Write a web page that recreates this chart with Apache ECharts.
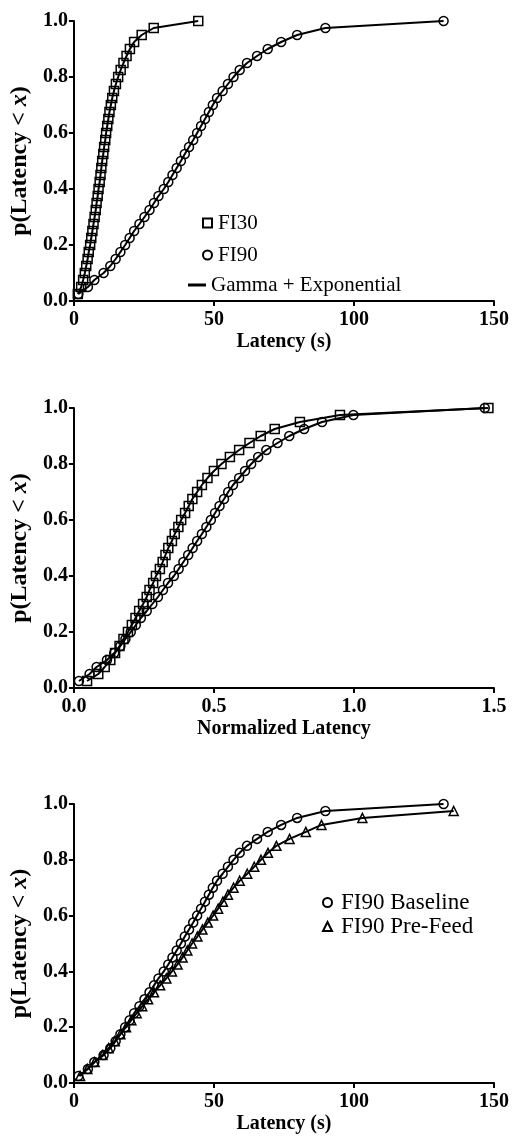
<!DOCTYPE html>
<html>
<head>
<meta charset="utf-8">
<script src="https://cdn.jsdelivr.net/npm/echarts@6/dist/echarts.min.js"></script>
<style>
html,body{margin:0;padding:0;background:#fff;}
#c{width:515px;height:1136px;}
</style>
</head>
<body>
<div id="c"></div>
<script>
// cumulative probabilities (quantile levels)
const probs = [0.025,0.05,0.075,0.1,0.125,0.15,0.175,0.2,0.225,0.25,0.275,0.3,0.325,0.35,0.375,0.4,0.425,0.45,0.475,0.5,0.525,0.55,0.575,0.6,0.625,0.65,0.675,0.7,0.725,0.75,0.775,0.8,0.825,0.85,0.875,0.9,0.925,0.95,0.975,1.0];
const probsPreFeed = [0.025,0.05,0.075,0.1,0.125,0.15,0.175,0.2,0.225,0.25,0.275,0.3,0.325,0.35,0.375,0.4,0.425,0.45,0.475,0.5,0.525,0.55,0.575,0.6,0.625,0.65,0.675,0.7,0.725,0.75,0.775,0.8,0.825,0.85,0.875,0.9,0.925,0.95,0.975];

// Panel 1: latency (s)
const fi30Latency = [1.4,2.6,3.3,3.9,4.4,4.9,5.3,5.8,6.2,6.6,7.0,7.4,7.8,8.1,8.5,8.8,9.2,9.5,9.8,10.1,10.5,10.8,11.2,11.5,11.9,12.3,12.7,13.2,13.7,14.3,15.0,15.8,16.7,17.7,18.8,20.0,21.5,24.2,28.5,44.4];
const fi90Latency = [1.6,5.0,7.3,10.6,13.0,14.9,16.6,18.3,19.9,21.5,23.4,25.2,27.0,28.6,30.2,32.1,33.7,35.2,36.7,38.2,39.6,41.1,42.6,44.0,45.4,46.8,48.2,49.6,51.1,53.1,55.0,57.0,59.2,61.8,65.4,69.2,74.0,79.7,89.8,132.0];

// Panel 2: normalized latency
const fi30Norm = [0.047,0.087,0.110,0.130,0.147,0.163,0.177,0.193,0.207,0.220,0.233,0.247,0.260,0.270,0.283,0.293,0.307,0.317,0.327,0.337,0.350,0.360,0.373,0.383,0.397,0.410,0.423,0.440,0.457,0.477,0.500,0.527,0.557,0.590,0.627,0.667,0.717,0.807,0.950,1.480];
const fi90Norm = [0.018,0.056,0.081,0.118,0.144,0.166,0.184,0.203,0.221,0.239,0.260,0.280,0.300,0.318,0.336,0.357,0.374,0.391,0.408,0.424,0.440,0.457,0.473,0.489,0.504,0.520,0.536,0.551,0.568,0.590,0.611,0.633,0.658,0.687,0.727,0.769,0.822,0.886,0.998,1.467];

// Panel 3: baseline vs pre-feed latency (s)
const baselineLatency = [1.6,5.0,7.3,10.6,13.0,14.9,16.6,18.3,19.9,21.5,23.4,25.2,27.0,28.6,30.2,32.1,33.7,35.2,36.7,38.2,39.6,41.1,42.6,44.0,45.4,46.8,48.2,49.6,51.1,53.1,55.0,57.0,59.2,61.8,65.4,69.2,74.0,79.7,89.8,132.0];
const preFeedLatency = [2.2,4.8,7.4,10.2,12.4,14.6,16.6,18.6,20.5,22.4,24.4,26.5,28.6,30.8,33.0,35.0,37.0,38.8,40.5,42.2,44.1,45.9,47.8,49.7,51.5,53.2,55.0,57.0,59.2,61.9,64.4,66.8,69.3,72.3,77.0,82.8,88.4,103.0,135.6];

// axis ticks
const latencyTicks = {min:0, max:150, interval:50};
const normTicks = {min:0, max:1.5, interval:0.5};
const probTicks = {min:0, max:1, interval:0.2};

const FONT = '"Liberation Serif","Times New Roman",serif';
const pair = (xs, ps) => xs.map((x,i) => [x, ps[i]]);

const chart = echarts.init(document.getElementById('c'), null, {renderer:'canvas'});

function xAxis(idx, t, name, dec){
  return {
    type:'value', gridIndex:idx, min:t.min, max:t.max, interval:t.interval,
    name:name, nameLocation:'middle', nameGap:31,
    nameTextStyle:{fontFamily:FONT, fontWeight:'bold', fontSize:20, color:'#000'},
    axisLine:{show:true, onZero:false, lineStyle:{color:'#000', width:2}},
    axisTick:{show:true, inside:false, length:5, lineStyle:{color:'#000', width:2}},
    axisLabel:{margin:9, fontFamily:FONT, fontWeight:'bold', fontSize:20, color:'#000',
      formatter: v => dec ? v.toFixed(1) : String(v)},
    splitLine:{show:false}
  };
}
function yAxis(idx){
  return {
    type:'value', gridIndex:idx, min:probTicks.min, max:probTicks.max, interval:probTicks.interval,
    name:'p(Latency < {i|x})', nameLocation:'middle', nameGap:30,
    nameTextStyle:{fontFamily:FONT, fontWeight:'bold', fontSize:24, color:'#000',
      rich:{i:{fontFamily:FONT, fontWeight:'bold', fontStyle:'italic', fontSize:24, color:'#000'}}},
    axisLine:{show:true, onZero:false, lineStyle:{color:'#000', width:2}},
    axisTick:{show:true, inside:false, length:5, lineStyle:{color:'#000', width:2}},
    axisLabel:{margin:6, fontFamily:FONT, fontWeight:'bold', fontSize:20, color:'#000',
      formatter: v => v.toFixed(1)},
    splitLine:{show:false}
  };
}
function markers(name, idx, data, symbol){
  return {
    name:name, type:'scatter', xAxisIndex:idx, yAxisIndex:idx, data:data,
    symbol:symbol, symbolSize:9, z:4, silent:true,
    itemStyle:{color:'rgba(0,0,0,0)', borderColor:'#000', borderWidth:1.5, opacity:1}
  };
}
function fitLine(name, idx, data){
  return {
    name:name, type:'line', xAxisIndex:idx, yAxisIndex:idx, data:data,
    symbol:'none', z:3, silent:true, animation:false,
    itemStyle:{color:'#000'},
    lineStyle:{color:'#000', width:2}
  };
}

const option = {
  backgroundColor:'#fff',
  animation:false,
  grid:[
    {left:73.5, right:21, top:21, height:280},
    {left:73.5, right:21, top:408, height:280},
    {left:73.5, right:21, top:804, height:279}
  ],
  xAxis:[
    xAxis(0, latencyTicks, 'Latency (s)', false),
    xAxis(1, normTicks, 'Normalized Latency', true),
    xAxis(2, latencyTicks, 'Latency (s)', false)
  ],
  yAxis:[yAxis(0), yAxis(1), yAxis(2)],
  legend:[
    {
      data:[{name:'FI30', icon:'rect'}, {name:'FI90', icon:'circle'}],
      orient:'vertical', left:197, top:207, itemWidth:9, itemHeight:9, itemGap:10,
      selectedMode:false,
      textStyle:{fontFamily:FONT, fontSize:21, color:'#000', lineHeight:22, padding:[0,0,0,1]}
    },
    {
      data:[{name:'Gamma + Exponential', icon:'rect'}],
      orient:'vertical', left:183, top:269, itemWidth:18, itemHeight:3,
      selectedMode:false,
      itemStyle:{color:'#000', borderWidth:0},
      textStyle:{fontFamily:FONT, fontSize:21, color:'#000', lineHeight:22, padding:[0,0,0,0]}
    },
    {
      data:[{name:'FI90 Baseline', icon:'circle'}, {name:'FI90 Pre-Feed', icon:'triangle'}],
      orient:'vertical', left:317, top:886, itemWidth:9, itemHeight:9, itemGap:1,
      selectedMode:false,
      textStyle:{fontFamily:FONT, fontSize:23, color:'#000', lineHeight:22, padding:[0,0,0,4]}
    }
  ],
  series:[
    fitLine('Gamma + Exponential', 0, pair(fi30Latency, probs)),
    fitLine('Gamma + Exponential', 0, pair(fi90Latency, probs)),
    markers('FI30', 0, pair(fi30Latency, probs), 'rect'),
    markers('FI90', 0, pair(fi90Latency, probs), 'circle'),

    fitLine('fit30n', 1, pair(fi30Norm, probs)),
    fitLine('fit90n', 1, pair(fi90Norm, probs)),
    markers('FI30 norm', 1, pair(fi30Norm, probs), 'rect'),
    markers('FI90 norm', 1, pair(fi90Norm, probs), 'circle'),

    fitLine('fitBase', 2, pair(baselineLatency, probs)),
    fitLine('fitPre', 2, pair(preFeedLatency, probsPreFeed)),
    markers('FI90 Baseline', 2, pair(baselineLatency, probs), 'circle'),
    markers('FI90 Pre-Feed', 2, pair(preFeedLatency, probsPreFeed), 'triangle')
  ]
};
chart.setOption(option);
</script>
</body>
</html>
